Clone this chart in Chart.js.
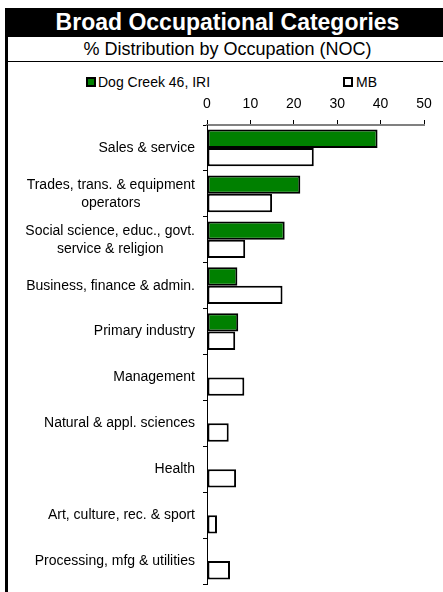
<!DOCTYPE html>
<html>
<head>
<meta charset="utf-8">
<script src="https://cdn.jsdelivr.net/npm/chart.js@4"></script>
<style>
  body { margin:0; width:443px; height:592px; overflow:hidden; position:relative; background:#fff;
         font-family: Arial, "Liberation Sans", sans-serif; }
  .abs { position:absolute; }
</style>
</head>
<body>
<div class="abs" style="left:5px;top:8px;width:3px;height:584px;background:#000;"></div>
<div class="abs" style="left:5px;top:8px;width:445px;height:29px;background:#000;color:#fff;font-weight:bold;font-size:23px;line-height:29px;text-align:center;">Broad Occupational Categories</div>
<div class="abs" style="left:5px;top:38px;width:445px;height:23px;font-size:18px;line-height:23px;text-align:center;color:#000;border-bottom:1px solid #000;">% Distribution by Occupation (NOC)</div>
<div class="abs" style="left:86px;top:77px;width:6px;height:6px;background:#008000;border:2px solid #000;"></div>
<div class="abs" style="left:98px;top:74px;font-size:14px;line-height:17px;color:#000;">Dog Creek 46, IRI</div>
<div class="abs" style="left:343px;top:77px;width:6px;height:6px;background:#fff;border:2px solid #000;"></div>
<div class="abs" style="left:356px;top:74px;font-size:14px;line-height:17px;color:#000;">MB</div>
<canvas id="occ-chart" class="abs" style="left:8px;top:62px;" width="435" height="530"></canvas>
<script>
// chart values
const categories = [
  ['Sales & service'],
  ['Trades, trans. & equipment', 'operators'],
  ['Social science, educ., govt.', 'service & religion'],
  ['Business, finance & admin.'],
  ['Primary industry'],
  ['Management'],
  ['Natural & appl. sciences'],
  ['Health'],
  ['Art, culture, rec. & sport'],
  ['Processing, mfg & utilities']
];
const dogCreek = [39.3, 21.5, 17.9, 7.0, 7.2, 0, 0, 0, 0, 0];
const mb = [24.6, 15.0, 8.8, 17.4, 6.5, 8.6, 5.0, 6.7, 2.3, 5.3];
const xMin = 0, xMax = 50, xStep = 10;

const FONT = 'Arial, "Liberation Sans", sans-serif';

// draws the category names: block right-aligned, lines centred inside the block
const categoryLabels = {
  id: 'categoryLabels',
  afterDraw(chart) {
    const ctx = chart.ctx;
    const yScale = chart.scales.y;
    const right = chart.chartArea.left - 12;
    const lineH = 18;
    ctx.save();
    ctx.font = '14px ' + FONT;
    ctx.fillStyle = '#000';
    ctx.textAlign = 'center';
    ctx.textBaseline = 'middle';
    categories.forEach((lines, i) => {
      const y = yScale.getPixelForTick(i);
      const w = Math.max(...lines.map(l => ctx.measureText(l).width));
      const cx = right - w / 2;
      lines.forEach((l, j) => {
        ctx.fillText(l, cx, y + (j - (lines.length - 1) / 2) * lineH);
      });
    });
    ctx.restore();
  }
};

new Chart(document.getElementById('occ-chart').getContext('2d'), {
  type: 'bar',
  data: {
    labels: categories.map(l => l.join(' ')),
    datasets: [
      { label: 'Dog Creek 46, IRI', data: dogCreek, backgroundColor: '#008000',
        borderColor: '#000', borderWidth: 2, borderSkipped: false },
      { label: 'MB', data: mb, backgroundColor: '#fff',
        borderColor: '#000', borderWidth: 2, borderSkipped: false }
    ]
  },
  options: {
    indexAxis: 'y',
    responsive: false,
    animation: false,
    layout: { padding: { top: 0, right: 19, bottom: 8, left: 0 } },
    categoryPercentage: 0.8,
    barPercentage: 1.0,
    plugins: { legend: { display: false }, tooltip: { enabled: false } },
    scales: {
      x: {
        position: 'top',
        min: xMin, max: xMax,
        ticks: { stepSize: xStep, color: '#000', font: { size: 14, family: FONT }, padding: 7 },
        grid: { drawOnChartArea: false, tickLength: 5, tickColor: '#000' },
        border: { color: '#808080', width: 2 },
        afterFit(scale) { scale.height = 63; }
      },
      y: {
        ticks: { display: false },
        grid: { drawOnChartArea: false, tickLength: 4, color: '#000', offset: true },
        border: { color: '#000', width: 1 },
        afterFit(scale) { scale.width = 199; }
      }
    }
  },
  plugins: [categoryLabels]
});
</script>
</body>
</html>
